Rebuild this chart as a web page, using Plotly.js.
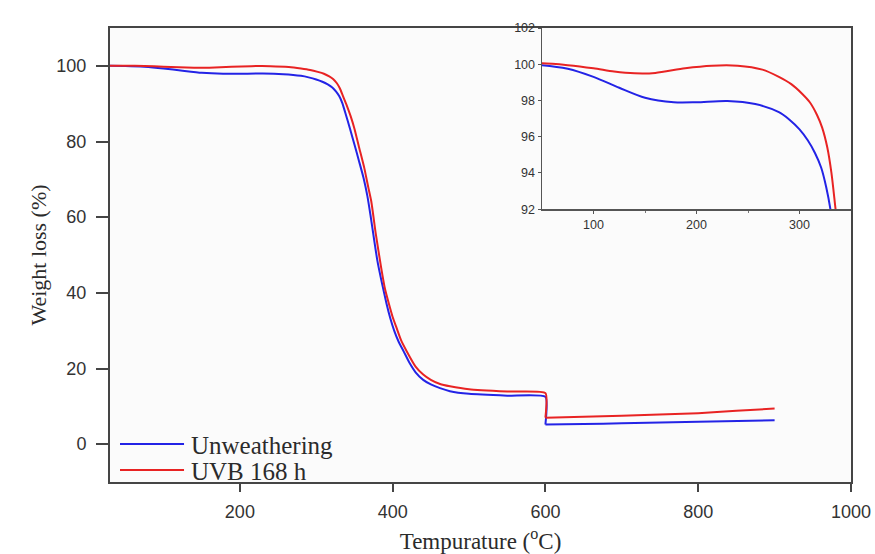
<!DOCTYPE html>
<html>
<head>
<meta charset="utf-8">
<script src="https://cdn.plot.ly/plotly-3.0.1.min.js"></script>
<style>
  html, body { margin: 0; padding: 0; background: #ffffff; }
  #chart { width: 875px; height: 554px; }
</style>
</head>
<body>
<div id="chart"></div>
<script>
// TGA curves: residual weight (%) versus temperature (°C)
// The furnace step at 600 °C appears as a repeated temperature with two weights.
const seriesNames = ['Unweathering', 'UVB 168 h'];
const seriesColors = ['#2323e6', '#e82323'];

const tempUnweathered = [30, 50, 75, 100, 125, 150, 178, 200, 230, 257, 280, 290, 300, 308, 315, 321, 326, 330, 334, 338, 344, 350, 356, 362, 367, 371, 376, 380, 385, 392, 397, 402, 408, 414, 422, 430, 440, 450, 462, 475, 500, 550, 600, 600, 650, 700, 800, 900];
const weightUnweathered = [100, 99.95, 99.75, 99.3, 98.7, 98.15, 97.9, 97.9, 97.97, 97.8, 97.35, 96.95, 96.4, 95.8, 95.1, 94.3, 93.2, 92.0, 90.2, 87.6, 83.5, 79.2, 74.8, 70.3, 65.5, 60.5, 53.7, 48.5, 43.5, 37.1, 33.2, 30.0, 27.0, 24.7, 21.5, 19.0, 17.0, 15.8, 14.8, 14.0, 13.3, 12.8, 12.5, 5.2, 5.3, 5.5, 5.9, 6.3];

const tempUVB = [30, 50, 75, 100, 120, 140, 160, 189, 215, 240, 264, 280, 292, 302, 310, 317, 322, 327, 331, 335, 340, 345, 350, 356, 363, 368, 372, 378, 385, 390, 394, 400, 405, 411, 418, 430, 440, 450, 462, 475, 500, 550, 600, 600, 700, 800, 850, 900];
const weightUVB = [100, 100.05, 99.95, 99.78, 99.6, 99.5, 99.52, 99.78, 99.92, 99.92, 99.7, 99.3, 98.9, 98.4, 97.9, 97.2, 96.5, 95.4, 94.0, 92.0, 89.5, 86.7, 83.4, 78.5, 72.9, 68.0, 64.2, 55.5, 46.6, 41.0, 37.9, 33.6, 30.8, 27.5, 24.7, 20.5, 18.4, 17.0, 15.9, 15.3, 14.5, 13.9, 13.5, 7.0, 7.5, 8.2, 8.8, 9.4];

const mainXTicks = [200, 400, 600, 800, 1000];
const mainYTicks = [0, 20, 40, 60, 80, 100];
const insetXTicks = [100, 200, 300];
const insetXMinor = [150, 250];
const insetYTicks = [92, 94, 96, 98, 100, 102];

const xTitle = 'Tempurature (<sup>o</sup>C)';
const yTitle = 'Weight loss (%)';

const temps = [tempUnweathered, tempUVB];
const weights = [weightUnweathered, weightUVB];

// Split a curve at its repeated temperature so the spline does not ring
// around the vertical step: the first piece keeps the drop, the second
// piece starts fresh after a gap.
function splitAtStep(xs, ys) {
  let k = -1;
  for (let i = 1; i < xs.length; i++) if (xs[i] === xs[i - 1]) { k = i; break; }
  if (k < 0) return { x: xs.slice(), y: ys.slice() };
  return {
    x: xs.slice(0, k + 1).concat([null], xs.slice(k)),
    y: ys.slice(0, k + 1).concat([null], ys.slice(k))
  };
}

const traces = [];
// main panel
for (let i = 0; i < seriesNames.length; i++) {
  const seg = splitAtStep(temps[i], weights[i]);
  traces.push({
    type: 'scatter', mode: 'lines', name: seriesNames[i],
    x: seg.x, y: seg.y, xaxis: 'x', yaxis: 'y', connectgaps: false,
    line: { color: seriesColors[i], width: 2, shape: 'spline', smoothing: 0.5 },
    showlegend: false, hoverinfo: 'skip'
  });
}
// zoomed inset of the early weight loss
for (let i = 0; i < seriesNames.length; i++) {
  const seg = splitAtStep(temps[i], weights[i]);
  traces.push({
    type: 'scatter', mode: 'lines', name: seriesNames[i],
    x: seg.x, y: seg.y, xaxis: 'x2', yaxis: 'y2', connectgaps: false,
    line: { color: seriesColors[i], width: 2, shape: 'spline', smoothing: 0.8 },
    showlegend: false, hoverinfo: 'skip'
  });
}

const axisColor = '#454545';
const sansFont = 'Liberation Sans, Arial, sans-serif';
const serifFont = 'Liberation Serif, Times New Roman, serif';

// hand-placed legend: line sample + label per series
const legendRows = [0.0837, 0.0264];
const shapes = [];
const annotations = [];
for (let i = 0; i < seriesNames.length; i++) {
  shapes.push({
    type: 'line', xref: 'paper', yref: 'paper',
    x0: 0.0135, x1: 0.0999, y0: legendRows[i], y1: legendRows[i],
    line: { color: seriesColors[i], width: 2 }
  });
  annotations.push({
    xref: 'paper', yref: 'paper', x: 0.107, y: legendRows[i] - 0.004,
    xanchor: 'left', yanchor: 'middle', showarrow: false,
    text: seriesNames[i],
    font: { family: serifFont, size: 25, color: '#2b2b2b' }
  });
}

const layout = {
  width: 875, height: 554,
  margin: { l: 110, r: 24, t: 28, b: 72 },
  paper_bgcolor: '#ffffff',
  plot_bgcolor: '#fbfbfb',
  showlegend: false,
  xaxis: {
    domain: [0, 1], anchor: 'y', range: [30, 1000],
    tickmode: 'array', tickvals: mainXTicks,
    ticks: 'outside', ticklen: 8, tickwidth: 2, tickcolor: axisColor,
    ticklabelstandoff: 4,
    showline: true, linewidth: 2, linecolor: axisColor, mirror: true,
    showgrid: false, zeroline: false,
    tickfont: { family: sansFont, size: 18, color: '#333333' },
    title: { text: xTitle, standoff: 14, font: { family: serifFont, size: 23, color: '#2b2b2b' } }
  },
  yaxis: {
    domain: [0, 1], anchor: 'x', range: [-10, 110],
    tickmode: 'array', tickvals: mainYTicks,
    ticks: 'outside', ticklen: 12, tickwidth: 2, tickcolor: axisColor,
    ticklabelstandoff: 6,
    showline: true, linewidth: 2, linecolor: axisColor, mirror: true,
    showgrid: false, zeroline: false,
    tickfont: { family: sansFont, size: 18, color: '#333333' },
    title: { text: yTitle, standoff: 4, font: { family: serifFont, size: 22, color: '#2b2b2b' } }
  },
  xaxis2: {
    domain: [0.583, 1], anchor: 'y2', range: [50, 350],
    tickmode: 'array', tickvals: insetXTicks,
    ticks: 'outside', ticklen: 3, tickwidth: 1, tickcolor: '#555555',
    minor: { tickmode: 'array', tickvals: insetXMinor, ticks: 'outside', ticklen: 2, tickcolor: '#777777' },
    showline: true, linewidth: 1.5, linecolor: '#555555', mirror: false,
    showgrid: false, zeroline: false,
    tickfont: { family: sansFont, size: 12.5, color: '#333333' }
  },
  yaxis2: {
    domain: [0.601, 1], anchor: 'x2', range: [92, 102],
    tickmode: 'array', tickvals: insetYTicks,
    ticks: 'outside', ticklen: 3, tickwidth: 1, tickcolor: '#555555',
    showline: true, linewidth: 1.5, linecolor: '#555555', mirror: false,
    showgrid: false, zeroline: false,
    tickfont: { family: sansFont, size: 12.5, color: '#333333' }
  },
  shapes: shapes,
  annotations: annotations
};

Plotly.newPlot('chart', traces, layout, { staticPlot: true, displayModeBar: false });
</script>
</body>
</html>
